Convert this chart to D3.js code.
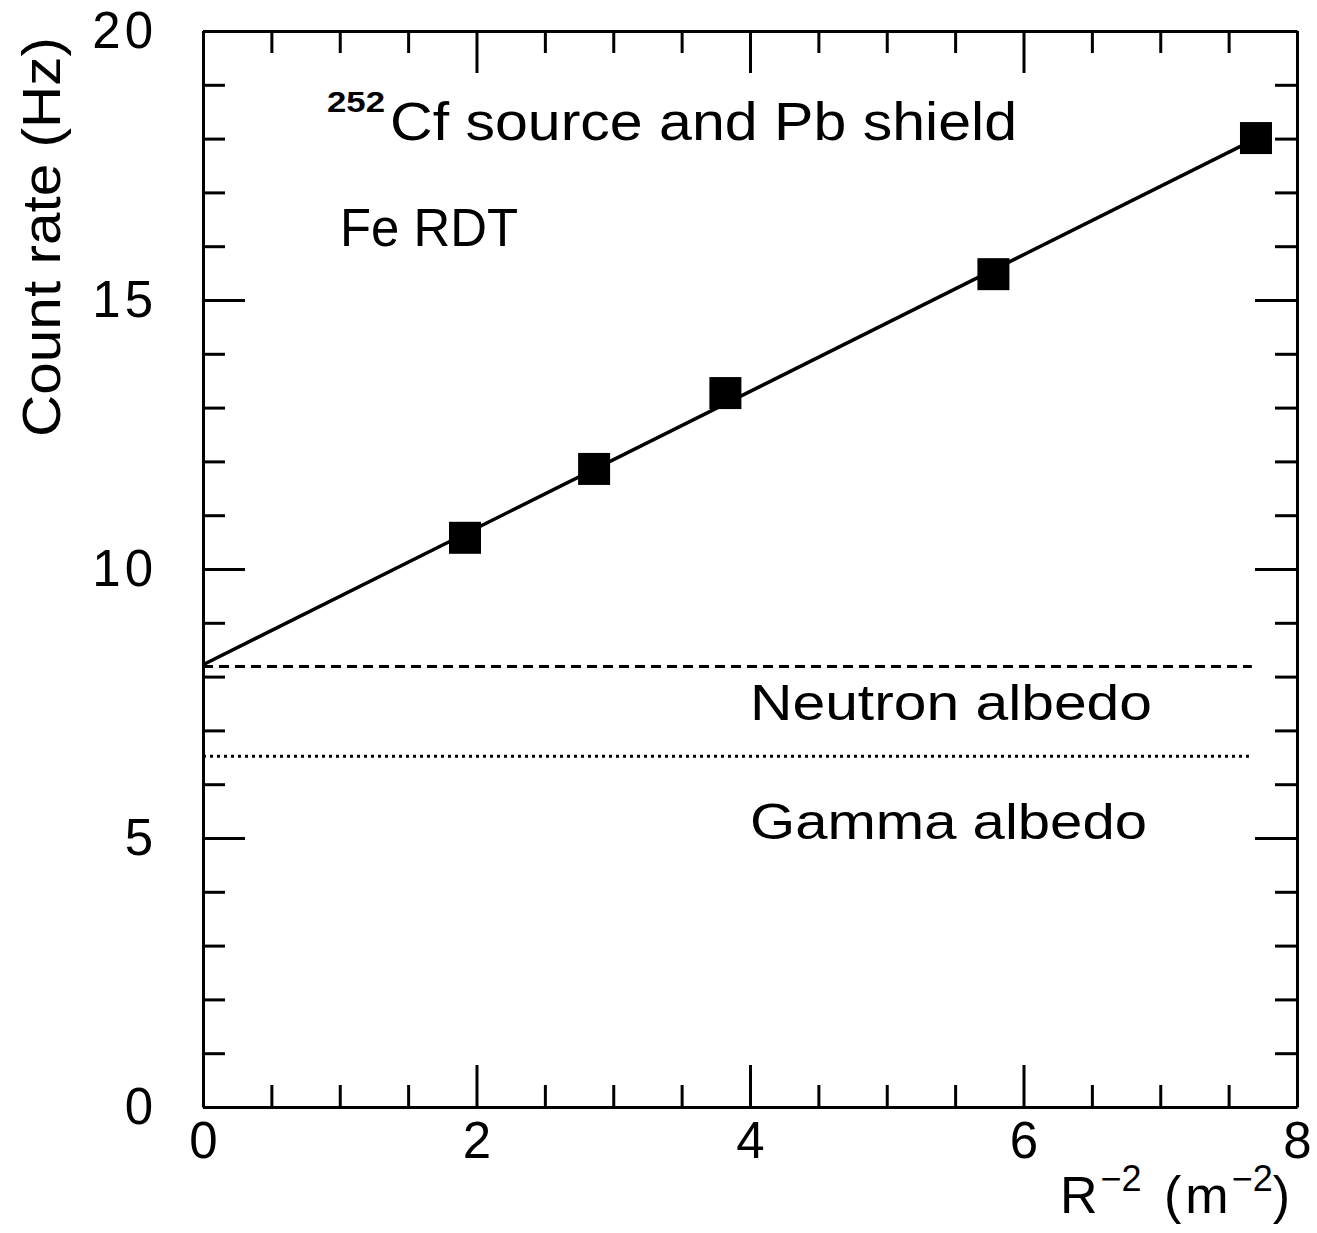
<!DOCTYPE html>
<html>
<head>
<meta charset="utf-8">
<script src="https://cdn.jsdelivr.net/npm/d3@7"></script>
<style>
  html, body { margin: 0; padding: 0; background: #fff; }
  svg text { font-family: "Liberation Sans", "DejaVu Sans", sans-serif; fill: #000; }
</style>
</head>
<body>
<svg id="chart" width="1317" height="1233"></svg>
<script>
// Measured count rates versus inverse squared distance
const invR2 = [1.916, 2.86, 3.82, 5.78, 7.70];
const countRate = [10.58, 11.86, 13.27, 15.48, 18.01];

// Linear fit drawn between its two end points
const fitX = [0, 7.70];
const fitY = [8.22, 18.0];

// Albedo background levels
const neutronAlbedo = 8.19;
const gammaAlbedo = 6.52;
const albedoXEnd = 7.67;

// Axis ticks
const xMajorTicks = [0, 2, 4, 6, 8];
const xMinorTicks = [0.5, 1, 1.5, 2.5, 3, 3.5, 4.5, 5, 5.5, 6.5, 7, 7.5];
const yMajorTicks = [0, 5, 10, 15, 20];
const yMinorTicks = [1, 2, 3, 4, 6, 7, 8, 9, 11, 12, 13, 14, 16, 17, 18, 19];

const svg = d3.select("#chart");
const padL = 203, padR = 1297, padT = 31, padB = 1107;
const W = padR - padL, H = padB - padT;

const x = d3.scaleLinear().domain([0, 8]).range([0, W]);
const y = d3.scaleLinear().domain([0, 20]).range([H, 0]);

const g = svg.append("g").attr("transform", `translate(${padL},${padT})`);

const MAJ = 42, MIN = 22, SW = 3;

function styleAxis(sel, hideLabels) {
  sel.selectAll("path.domain").attr("stroke", "#000").attr("stroke-width", SW);
  sel.selectAll(".tick line").attr("stroke", "#000").attr("stroke-width", SW);
  sel.selectAll(".tick text").attr("font-size", 51).attr("fill", "#000")
    .attr("letter-spacing", 4)
    .attr("font-family", "Liberation Sans, DejaVu Sans, sans-serif");
  if (hideLabels) sel.selectAll(".tick text").remove();
}

// Bottom axis: labelled majors, inward ticks
g.append("g").attr("transform", `translate(0,${H})`)
  .call(d3.axisBottom(x).tickValues(xMajorTicks).tickSize(-MAJ).tickSizeOuter(0).tickPadding(15).tickFormat(d3.format("d")))
  .call(s => { styleAxis(s, false); s.selectAll(".tick text").attr("dx", 2); });
g.append("g").attr("transform", `translate(0,${H})`)
  .call(d3.axisBottom(x).tickValues(xMinorTicks).tickSize(-MIN).tickSizeOuter(0))
  .call(s => { styleAxis(s, true); s.select("path.domain").remove(); });

// Top axis mirrors the bottom one
g.append("g")
  .call(d3.axisTop(x).tickValues(xMajorTicks).tickSize(-MAJ).tickSizeOuter(0))
  .call(s => styleAxis(s, true));
g.append("g")
  .call(d3.axisTop(x).tickValues(xMinorTicks).tickSize(-MIN).tickSizeOuter(0))
  .call(s => { styleAxis(s, true); s.select("path.domain").remove(); });

// Left axis: labelled majors
g.append("g")
  .call(d3.axisLeft(y).tickValues(yMajorTicks).tickSize(-MAJ).tickSizeOuter(0).tickPadding(46).tickFormat(d3.format("d")))
  .call(s => styleAxis(s, false));
g.append("g")
  .call(d3.axisLeft(y).tickValues(yMinorTicks).tickSize(-MIN).tickSizeOuter(0))
  .call(s => { styleAxis(s, true); s.select("path.domain").remove(); });

// Right axis mirrors the left one
g.append("g").attr("transform", `translate(${W},0)`)
  .call(d3.axisRight(y).tickValues(yMajorTicks).tickSize(-MAJ).tickSizeOuter(0))
  .call(s => styleAxis(s, true));
g.append("g").attr("transform", `translate(${W},0)`)
  .call(d3.axisRight(y).tickValues(yMinorTicks).tickSize(-MIN).tickSizeOuter(0))
  .call(s => { styleAxis(s, true); s.select("path.domain").remove(); });

// Albedo levels
g.append("line")
  .attr("x1", x(0)).attr("x2", x(albedoXEnd))
  .attr("y1", y(neutronAlbedo)).attr("y2", y(neutronAlbedo))
  .attr("stroke", "#000").attr("stroke-width", 3).attr("stroke-dasharray", "10,6");
g.append("line")
  .attr("x1", x(0)).attr("x2", x(albedoXEnd))
  .attr("y1", y(gammaAlbedo)).attr("y2", y(gammaAlbedo))
  .attr("stroke", "#000").attr("stroke-width", 3).attr("stroke-dasharray", "3,4");

// Fit line
const fitPts = fitX.map((v, i) => [v, fitY[i]]);
g.append("path")
  .attr("d", d3.line().x(d => x(d[0])).y(d => y(d[1]))(fitPts))
  .attr("fill", "none").attr("stroke", "#000").attr("stroke-width", 3.5);

// Data markers
const S = 32;
g.selectAll("rect.pt").data(invR2.map((v, i) => [v, countRate[i]]))
  .enter().append("rect").attr("class", "pt")
  .attr("x", d => x(d[0]) - S / 2).attr("y", d => y(d[1]) - S / 2)
  .attr("width", S).attr("height", S).attr("fill", "#000");

// Annotations
svg.append("text").attr("x", 327).attr("y", 112).attr("font-size", 29)
  .attr("font-weight", "bold").attr("textLength", 58).attr("lengthAdjust", "spacingAndGlyphs").text("252");
svg.append("text").attr("x", 390).attr("y", 140).attr("font-size", 53)
  .attr("textLength", 627).attr("lengthAdjust", "spacingAndGlyphs").text("Cf source and Pb shield");

svg.append("text").attr("x", 340).attr("y", 246).attr("font-size", 53)
  .attr("textLength", 178).attr("lengthAdjust", "spacingAndGlyphs").text("Fe RDT");

svg.append("text").attr("x", 750).attr("y", 720).attr("font-size", 50)
  .attr("textLength", 402).attr("lengthAdjust", "spacingAndGlyphs").text("Neutron albedo");
svg.append("text").attr("x", 750).attr("y", 839).attr("font-size", 50)
  .attr("textLength", 397).attr("lengthAdjust", "spacingAndGlyphs").text("Gamma albedo");

// Axis titles
svg.append("text").attr("transform", "translate(60,437) rotate(-90)")
  .attr("font-size", 54).attr("textLength", 400).attr("lengthAdjust", "spacingAndGlyphs")
  .text("Count rate (Hz)");

const xt = svg.append("text").attr("x", 1290).attr("y", 1213).attr("font-size", 52).attr("text-anchor", "end");
xt.append("tspan").text("R");
xt.append("tspan").attr("font-size", 36).attr("dy", -22).attr("dx", 3).text("−2");
xt.append("tspan").attr("dy", 22).attr("dx", 8).text(" (");
xt.append("tspan").attr("dx", 4).text("m");
xt.append("tspan").attr("font-size", 36).attr("dy", -22).attr("dx", 3).text("−2");
xt.append("tspan").attr("dy", 22).text(")");
</script>
</body>
</html>
